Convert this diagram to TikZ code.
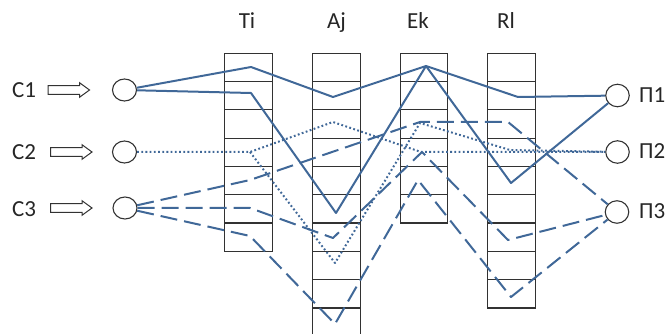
\documentclass[tikz,border=0pt]{standalone}
\usepackage{fontspec}
\setmainfont{Carlito}
\usetikzlibrary{shapes.geometric}
\definecolor{lineblue}{RGB}{64,104,152}
\definecolor{boxgray}{RGB}{50,50,50}
\tikzset{
  cellbox/.style={draw=boxgray, line width=1.1pt, minimum width=47.5pt, minimum height=28.3pt, inner sep=0pt, anchor=north west},
  port/.style={ellipse, draw=boxgray, line width=1.1pt, minimum width=24pt, minimum height=22pt, inner sep=0pt},
  lbl/.style={font=\fontsize{23}{25}\selectfont, inner sep=0pt, text=black!85},
  inarrow/.style={draw=boxgray, line width=1pt, line join=miter},
  link/.style={draw=lineblue, line width=2pt, line join=round},
  solidlink/.style={link},
  dottedlink/.style={link, dash pattern=on 1.8pt off 2.4pt},
  dashedlink/.style={link, dash pattern=on 17pt off 7pt}
}
\begin{document}
\begin{tikzpicture}[x=1pt,y=-1pt]
\useasboundingbox (0,0) rectangle (670,334);
% column labels
\node[lbl, anchor=base] (lTi) at (247,29) {Ti};
\node[lbl, anchor=base] (lAj) at (336.5,29) {Aj};
\node[lbl, anchor=base] (lEk) at (418,29) {Ek};
\node[lbl, anchor=base] (lRl) at (506,29) {Rl};
% columns of cells
\foreach \name/\x/\n in {Ti/224/7, Aj/312/10, Ek/399.5/6, Rl/487/9}{
  \foreach \k in {1,...,\n}{
    \node[cellbox] (\name\k) at (\x, {52.7+28.3*(\k-1)}) {};
  }
}
% inputs
\node[lbl, anchor=base west] (tc1) at (12,97.7) {C1};
\node[lbl, anchor=base west] (tc2) at (12,160) {C2};
\node[lbl, anchor=base west] (tc3) at (12,216.7) {C3};
\foreach \xa/\y in {48/90, 50.5/152, 50.5/208}{
  \draw[inarrow] (\xa,\y-4.3) -- (\xa+31.5,\y-4.3) -- (\xa+31.5,\y-7.3) -- (\xa+41.5,\y)
    -- (\xa+31.5,\y+7.3) -- (\xa+31.5,\y+4.3) -- (\xa,\y+4.3) -- cycle;
}
\node[port] (c1) at (124.5,90) {};
\node[port] (c2) at (124.5,152) {};
\node[port] (c3) at (125,208) {};
% outputs
\node[port, minimum width=23.5pt, minimum height=22.5pt] (p1) at (617.5,95.5) {};
\node[port, minimum width=23.5pt, minimum height=22.5pt] (p2) at (617.5,152) {};
\node[port, minimum width=23.5pt, minimum height=22.5pt] (p3) at (617,212) {};
\node[lbl, anchor=base west] (tp1) at (639,102.5) {Π1};
\node[lbl, anchor=base west] (tp2) at (639,158.5) {Π2};
\node[lbl, anchor=base west] (tp3) at (639,218.5) {Π3};
% waypoints
\coordinate (s1a) at (251,67);
\coordinate (s1b) at (333,97);
\coordinate (ekTop) at (426,66);
\coordinate (s1d) at (518,97);
\coordinate (s2a) at (251,93);
\coordinate (s2b) at (336,213);
\coordinate (s2d) at (511,183);
\coordinate (dTi) at (250,152);
\coordinate (dAa) at (333,122);
\coordinate (dEa) at (421,152);
\coordinate (dAb) at (335,263);
\coordinate (dEb) at (420,123);
\coordinate (dRb) at (510,150);
\coordinate (e1a) at (250,180);
\coordinate (e1b) at (420,122);
\coordinate (e1c) at (508,122);
\coordinate (e2a) at (250,208);
\coordinate (e2b) at (333,238);
\coordinate (e2c) at (422,152);
\coordinate (e2d) at (508,240);
\coordinate (e3a) at (250,236);
\coordinate (e3b) at (335,324);
\coordinate (e3c) at (418,180);
\coordinate (e3d) at (511,297);
% solid connectors
\draw[solidlink] (c1) -- (s1a) -- (s1b) -- (ekTop) -- (s1d) -- (p1);
\draw[solidlink] (c1) -- (s2a) -- (s2b) -- (ekTop) -- (s2d) -- (p1);
% dotted connectors
\draw[dottedlink] (c2) -- (dTi) -- (dAa) -- (dEa) -- (p2);
\draw[dottedlink] (dTi) -- (dAb) -- (dEb) -- (dRb) -- (p2);
% dashed connectors
\draw[dashedlink] (c3) -- (e1a) -- (e1b) -- (e1c) -- (p3);
\draw[dashedlink] (c3) -- (e2a) -- (e2b) -- (e2c) -- (e2d) -- (p3);
\draw[dashedlink] (c3) -- (e3a) -- (e3b) -- (e3c) -- (e3d) -- (p3);
\end{tikzpicture}
\end{document}
